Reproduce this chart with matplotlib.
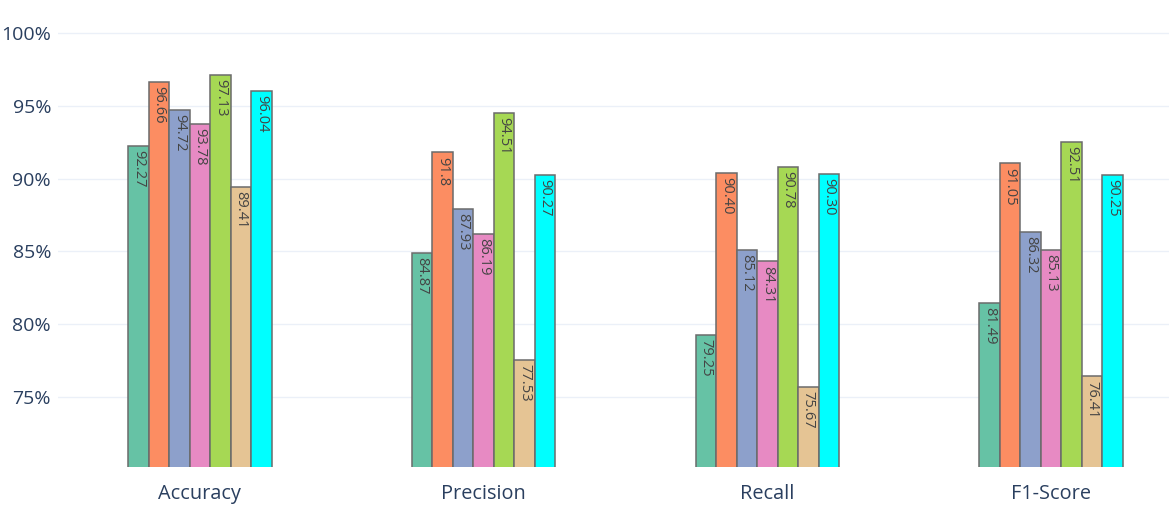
import numpy as np
import matplotlib.pyplot as plt
from matplotlib.ticker import FuncFormatter

categories = ["Accuracy", "Precision", "Recall", "F1-Score"]
series_names = ["Model 1", "Model 2", "Model 3", "Model 4", "Model 5", "Model 6", "Model 7"]
colors = ["#66c2a5", "#fc8d62", "#8da0cb", "#e78ac3", "#a6d854", "#e5c494", "#00ffff"]

# text labels as shown on the bars (one list per series, across the 4 metrics)
labels = [
    ["92.27", "84.87", "79.25", "81.49"],
    ["96.66", "91.8", "90.40", "91.05"],
    ["94.72", "87.93", "85.12", "86.32"],
    ["93.78", "86.19", "84.31", "85.13"],
    ["97.13", "94.51", "90.78", "92.51"],
    ["89.41", "77.53", "75.67", "76.41"],
    ["96.04", "90.27", "90.30", "90.25"],
]
values = [[float(v) for v in row] for row in labels]

y_ticks = [75, 80, 85, 90, 95, 100]

plt.rcParams['font.family'] = ['Open Sans', 'DejaVu Sans']

W, H = 1169, 525
fig = plt.figure(figsize=(W / 100, H / 100), dpi=100)
# plot area runs past the right edge like in the original crop
ax = fig.add_axes([58 / W, (H - 467) / H, 1135 / W, 467 / H])

x = np.arange(len(categories))
n = len(series_names)
group = 0.505
bw = group / n

for i in range(n):
    pos = x - group / 2 + bw * (i + 0.5)
    bars = ax.bar(pos, values[i], width=bw, color=colors[i], edgecolor="#6b6b6b",
                  linewidth=1.1, label=series_names[i], zorder=2)
    for b, txt in zip(bars, labels[i]):
        ax.annotate(txt, (b.get_x() + b.get_width() / 2, b.get_height()),
                    xytext=(0, -3), textcoords="offset points",
                    rotation=-90, ha="center", va="top", fontsize=10.5,
                    color="#444444", zorder=3)

ax.set_xlim(-0.5, 3.5)
ax.set_ylim(70.19, 102.27)
ax.set_xticks(x)
ax.set_xticklabels(categories)
ax.set_yticks(y_ticks)
ax.yaxis.set_major_formatter(FuncFormatter(lambda v, p: "%d%%" % v))
ax.tick_params(axis="x", length=0, pad=12.5, labelsize=14.3, labelcolor="#2a3f5f")
ax.tick_params(axis="y", length=0, pad=5, labelsize=14, labelcolor="#2a3f5f")
ax.grid(axis="y", color="#ebf0f8", linewidth=1, zorder=0)
ax.set_axisbelow(True)
for s in ax.spines.values():
    s.set_visible(False)

fig.savefig("out.png", dpi=100)
